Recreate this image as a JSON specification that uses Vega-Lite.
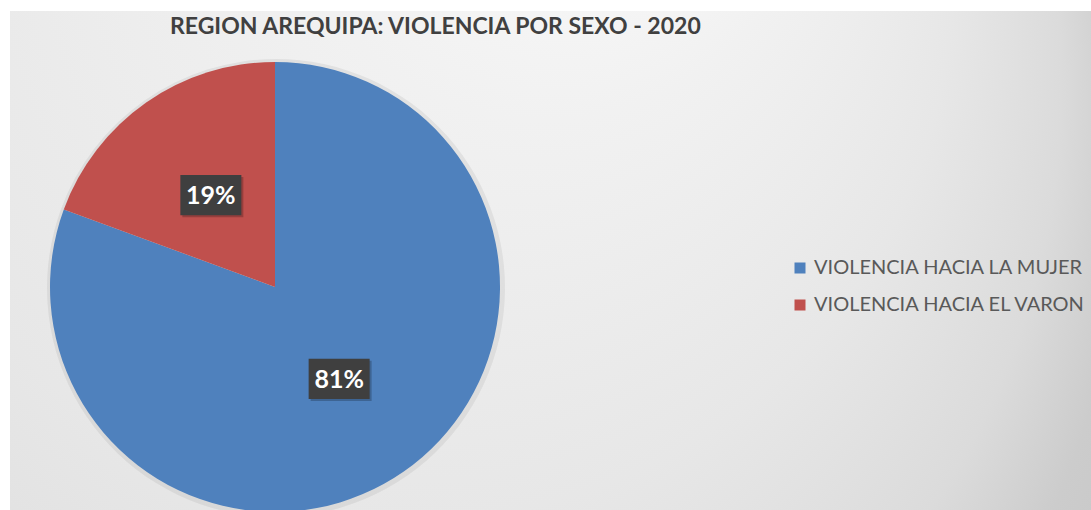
{
  "$schema": "https://vega.github.io/schema/vega-lite/v6.json",
  "width": 1081,
  "height": 499,
  "autosize": "none",
  "padding": {"left": 10, "top": 11, "right": 0, "bottom": 0},
  "background": "#ffffff",
  "config": {"view": {"stroke": null}},
  "title": {
    "text": "REGION AREQUIPA: VIOLENCIA POR SEXO - 2020",
    "frame": "group",
    "anchor": "start",
    "dx": 160,
    "offset": -46,
    "baseline": "alphabetic",
    "font": "Lato",
    "fontSize": 23,
    "fontWeight": "bold",
    "color": "#404040"
  },
  "data": {
    "values": [
      {"cat": "VIOLENCIA HACIA LA MUJER", "pct": 0.806, "ord": 1},
      {"cat": "VIOLENCIA HACIA EL VARON", "pct": 0.194, "ord": 2}
    ]
  },
  "resolve": {"scale": {"x": "shared", "y": "shared"}},
  "layer": [
    {
      "data": {"values": [{"bg": 1}]},
      "mark": {
        "type": "rect",
        "color": {
          "gradient": "radial",
          "x1": 0.62, "y1": 0.0, "r1": 0,
          "x2": 0.0, "y2": 0.6, "r2": 1.25,
          "stops": [
            {"offset": 0, "color": "#ffffff"},
            {"offset": 0.2, "color": "#f1f1f1"},
            {"offset": 0.4, "color": "#e7e7e7"},
            {"offset": 0.56, "color": "#dbdbdb"},
            {"offset": 0.66, "color": "#cccccc"},
            {"offset": 0.85, "color": "#c3c3c3"},
            {"offset": 1, "color": "#bdbdbd"}
          ]
        }
      },
      "encoding": {}
    },
    {
      "mark": {"type": "arc", "radius": 229, "x": 266, "y": 277, "color": "#000000", "opacity": 0.06},
      "encoding": {
        "theta": {"field": "pct", "type": "quantitative", "stack": true},
        "order": {"field": "ord", "type": "quantitative"}
      }
    },
    {
      "mark": {"type": "arc", "radius": 225, "x": 265, "y": 276},
      "encoding": {
        "theta": {"field": "pct", "type": "quantitative", "stack": true},
        "order": {"field": "ord", "type": "quantitative"},
        "color": {
          "field": "cat",
          "type": "nominal",
          "scale": {
            "domain": ["VIOLENCIA HACIA LA MUJER", "VIOLENCIA HACIA EL VARON"],
            "range": ["#4F81BD", "#C0504D"]
          },
          "legend": {
            "title": null,
            "orient": "none",
            "legendX": 780,
            "legendY": 247,
            "symbolType": "square",
            "symbolSize": 121,
            "symbolStrokeWidth": 0,
            "labelFont": "Lato",
            "labelFontSize": 20,
            "labelColor": "#595959",
            "labelOffset": 4,
            "rowPadding": 17,
            "labelLimit": 400
          }
        }
      }
    },
    {
      "transform": [
        {"stack": "pct", "groupby": [], "sort": [{"field": "ord"}], "as": ["s0", "s1"]},
        {"calculate": "0.498 * sin(PI * (datum.s0 + datum.s1))", "as": "bx"},
        {"calculate": "0.498 * cos(PI * (datum.s0 + datum.s1))", "as": "by"}
      ],
      "layer": [
        {
          "mark": {"type": "point", "shape": "M-1,-0.656L1,-0.656L1,0.656L-1,0.656Z", "size": 3721, "filled": true, "color": "#000000", "opacity": 0.22, "xOffset": 2, "yOffset": 2}
        },
        {
          "mark": {"type": "point", "shape": "M-1,-0.656L1,-0.656L1,0.656L-1,0.656Z", "size": 3721, "filled": true, "color": "#3f3f3f", "opacity": 1}
        },
        {
          "mark": {"type": "text", "font": "Lato", "fontSize": 25, "fontWeight": "bold", "fill": "#ffffff", "dy": 1},
          "encoding": {"text": {"field": "pct", "type": "quantitative", "format": ".0%"}}
        }
      ],
      "encoding": {
        "x": {"field": "bx", "type": "quantitative", "scale": {"domain": [-1, 1], "range": [40, 490]}, "axis": null},
        "y": {"field": "by", "type": "quantitative", "scale": {"domain": [-1, 1], "range": [501, 51]}, "axis": null}
      }
    }
  ]
}
